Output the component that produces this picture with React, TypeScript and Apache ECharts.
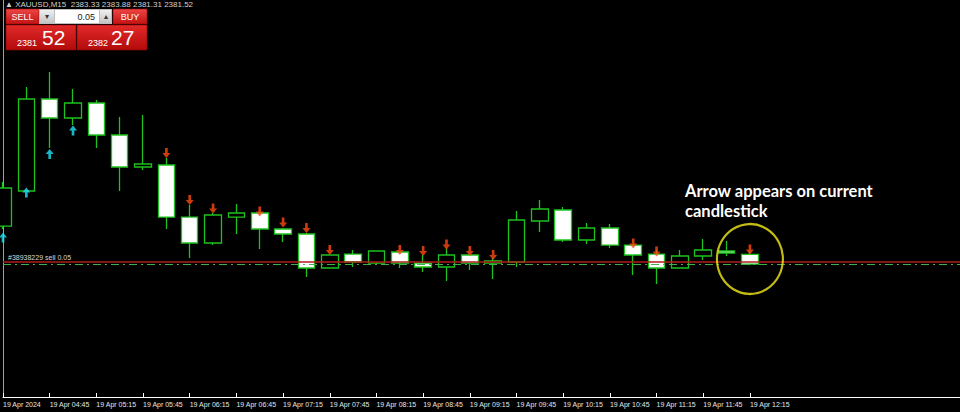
import React, { useEffect, useRef } from "react";
import * as echarts from "echarts";

// ---- data ----
const categories = [
  "04:15", "04:30", "04:45", "05:00", "05:15", "05:30", "05:45", "06:00", "06:15", "06:30",
  "06:45", "07:00", "07:15", "07:30", "07:45", "08:00", "08:15", "08:30", "08:45", "09:00",
  "09:15", "09:30", "09:45", "10:00", "10:15", "10:30", "10:45", "11:00", "11:15", "11:30",
  "11:45", "12:00", "12:15", "12:30", "12:45", "13:00", "13:15", "13:30", "13:45", "14:00",
  "14:15", "14:30",
];
const firstTickLabel = "19 Apr 2024";
const dayLabel = "19 Apr";

const opens = [2388.70, 2395.32, 2412.70, 2409.11, 2411.94, 2405.90, 2399.85, 2400.23, 2390.40, 2385.49, 2390.40, 2391.16, 2388.14, 2387.19, 2380.77, 2383.41, 2381.71, 2383.79, 2381.71, 2380.96, 2383.23, 2381.71, 2381.90, 2389.65, 2391.73, 2386.06, 2388.33, 2385.11, 2383.41, 2380.77, 2383.04, 2383.98, 2383.33];
const closes = [2395.88, 2412.70, 2409.11, 2411.94, 2405.90, 2399.85, 2400.42, 2390.40, 2385.49, 2390.78, 2391.16, 2388.14, 2387.19, 2380.77, 2383.23, 2381.90, 2383.98, 2381.71, 2380.96, 2383.23, 2381.71, 2382.09, 2389.84, 2391.92, 2386.06, 2388.33, 2385.11, 2383.23, 2380.77, 2383.04, 2384.17, 2383.60, 2381.52];
const highs = [2397.02, 2414.96, 2417.80, 2414.59, 2412.51, 2409.30, 2409.67, 2401.55, 2392.67, 2391.16, 2392.86, 2391.35, 2388.33, 2387.38, 2383.23, 2384.17, 2383.98, 2383.79, 2383.23, 2384.55, 2383.23, 2382.66, 2391.54, 2393.62, 2392.29, 2389.27, 2389.08, 2385.11, 2384.17, 2384.17, 2386.25, 2385.87, 2383.88];
const lows = [2388.14, 2395.20, 2403.44, 2407.78, 2403.44, 2395.32, 2399.28, 2388.14, 2382.66, 2385.11, 2387.19, 2384.36, 2385.68, 2379.07, 2380.77, 2380.96, 2381.53, 2380.77, 2380.01, 2378.31, 2380.39, 2378.69, 2380.96, 2387.57, 2385.68, 2385.30, 2384.55, 2379.45, 2377.75, 2380.77, 2382.28, 2383.04, 2381.31];

const upArrows = [2386.53, 2395.03, 2402.31, 2406.75, null, null, null, null, null, null, null, null, null, null, null, null, null, null, null, null, null, null, null, null, null, null, null, null, null, null, null, null, null];
const downArrows = [null, null, null, null, null, null, null, 2402.50, 2393.62, 2392.01, null, 2391.44, 2389.37, 2388.33, 2384.17, null, null, 2384.17, 2383.98, 2385.21, 2383.98, 2383.23, null, null, null, null, null, 2385.40, 2383.89, null, null, null, 2384.26];

const symbolName = "XAUUSD,M15";
const orderPrice = 2382.0;
const orderLabel = "#38938229 sell 0.05";
const bidPrice = 2381.52;
const askPrice = 2382.27;
const lotSize = "0.05";
const highlightIndex = 32;
const highlightPrice = 2382.47;
const annotation = "Arrow appears on current\ncandlestick";

const yMin = 2356.4;
const yMax = 2431.4;

export default function App() {
  const ref = useRef<HTMLDivElement>(null);

  useEffect(() => {
    if (!ref.current) return;
    const chart = echarts.init(ref.current, null, { renderer: "svg" });

    const candleData = opens.map((o, i) => [o, closes[i], lows[i], highs[i]]);
    const upData: any[] = [];
    upArrows.forEach((v, i) => { if (v != null) upData.push([i, v]); });
    const downData: any[] = [];
    downArrows.forEach((v, i) => { if (v != null) downData.push([i, v]); });

    const last = opens.length - 1;
    const header = `▲ ${symbolName}  ${opens[last].toFixed(2)} ${highs[last].toFixed(2)} ${lows[last].toFixed(2)} ${closes[last].toFixed(2)}`;
    const bidStr = bidPrice.toFixed(2);
    const askStr = askPrice.toFixed(2);
    const bidBig = bidStr.slice(0, 4);
    const bidSmall = bidStr.slice(5);
    const askBig = askStr.slice(0, 4);
    const askSmall = askStr.slice(5);

    const showTick = (i: number) => i % 2 === 0 && i <= last;
    const btnGrad = () =>
      new echarts.graphic.LinearGradient(0, 0, 0, 1, [
        { offset: 0, color: "#ee4646" },
        { offset: 1, color: "#c41212" },
      ]);
    const bigGrad = () =>
      new echarts.graphic.LinearGradient(0, 0, 0, 1, [
        { offset: 0, color: "#e22a2a" },
        { offset: 1, color: "#b30a0a" },
      ]);
    const grayGrad = () =>
      new echarts.graphic.LinearGradient(0, 0, 0, 1, [
        { offset: 0, color: "#f0f0f0" },
        { offset: 1, color: "#c4c4c4" },
      ]);
    const font = '"Liberation Sans", Arial, sans-serif';

    chart.setOption({
      animation: false,
      backgroundColor: "#000000",
      grid: { left: 3, right: 0, top: 0, bottom: 15 },
      xAxis: {
        type: "category",
        data: categories,
        boundaryGap: false,
        axisLine: { show: true, lineStyle: { color: "#ffffff", width: 1 } },
        axisTick: {
          show: true,
          inside: true,
          length: 4,
          interval: (i: number) => showTick(i),
          lineStyle: { color: "#ffffff" },
        },
        axisLabel: {
          show: true,
          interval: (i: number) => showTick(i),
          formatter: (v: string, i: number) => (i === 0 ? firstTickLabel : `${dayLabel} ${v}`),
          align: "left",
          color: "#e6e6e6",
          fontSize: 7,
          fontFamily: font,
          margin: 4,
        },
        splitLine: { show: false },
      },
      yAxis: {
        type: "value",
        min: yMin,
        max: yMax,
        axisLine: { show: true, lineStyle: { color: "#a0a0a0", width: 1 } },
        axisTick: { show: false },
        axisLabel: { show: false },
        splitLine: { show: false },
      },
      series: [
        {
          type: "candlestick",
          data: candleData,
          barWidth: 17,
          clip: true,
          itemStyle: {
            color: "#000000",
            color0: "#ffffff",
            borderColor: "#1ec21e",
            borderColor0: "#1ec21e",
            borderColorDoji: "#1ec21e",
            borderWidth: 1.3,
          },
          markLine: {
            silent: true,
            symbol: ["none", "none"],
            data: [
              {
                yAxis: orderPrice,
                lineStyle: { color: "#b01c1c", width: 1.6, type: "solid" },
                label: {
                  show: true,
                  position: "insideStartTop",
                  formatter: orderLabel,
                  color: "#d8d8d8",
                  fontSize: 7,
                  fontFamily: font,
                  distance: [5, 0],
                },
              },
              {
                yAxis: bidPrice,
                lineStyle: { color: "#3fb04a", width: 1, type: [8, 4, 2, 4] },
                label: { show: false },
              },
            ],
          },
        },
        {
          type: "scatter",
          data: upData,
          symbol: "path://M4.5,0 L9,5 L6,5 L6,10 L3,10 L3,5 L0,5 Z",
          symbolSize: [8, 10],
          itemStyle: { color: "#1ee4f6" },
          z: 5,
        },
        {
          type: "scatter",
          data: downData,
          symbol: "path://M3,0 L6,0 L6,5 L9,5 L4.5,10 L0,5 L3,5 Z",
          symbolSize: [8, 10],
          itemStyle: { color: "#ff4a12" },
          z: 5,
        },
        {
          type: "scatter",
          data: [[highlightIndex, highlightPrice]],
          symbol: "circle",
          symbolSize: [66, 70],
          itemStyle: { color: "rgba(0,0,0,0)", borderColor: "#f2ea1a", borderWidth: 2.2 },
          z: 6,
        },
      ],
      graphic: [
        {
          type: "text",
          x: 5,
          y: 4,
          style: { text: header, fill: "#d0d0d0", fontSize: 8, fontFamily: font, verticalAlign: "middle" },
        },
        // SELL button
        { type: "rect", shape: { x: 6, y: 9, width: 33, height: 15 }, style: { fill: btnGrad(), stroke: "#9a0c0c", lineWidth: 0.6 } },
        { type: "text", x: 22.5, y: 16.5, style: { text: "SELL", fill: "#ffffff", fontSize: 9, fontFamily: font, align: "center", verticalAlign: "middle" } },
        // lot spinner
        { type: "rect", shape: { x: 39, y: 9, width: 73, height: 15 }, style: { fill: "#bdbdbd" } },
        { type: "rect", shape: { x: 40, y: 10, width: 14, height: 13 }, style: { fill: grayGrad() } },
        { type: "text", x: 47, y: 16.5, style: { text: "▾", fill: "#333333", fontSize: 8, fontFamily: font, align: "center", verticalAlign: "middle" } },
        { type: "rect", shape: { x: 55, y: 10, width: 44, height: 13 }, style: { fill: "#ffffff" } },
        { type: "text", x: 95, y: 16.5, style: { text: lotSize, fill: "#222222", fontSize: 9, fontFamily: font, align: "right", verticalAlign: "middle" } },
        { type: "rect", shape: { x: 100, y: 10, width: 11, height: 13 }, style: { fill: grayGrad() } },
        { type: "text", x: 105.5, y: 16.5, style: { text: "▴", fill: "#333333", fontSize: 8, fontFamily: font, align: "center", verticalAlign: "middle" } },
        // BUY button
        { type: "rect", shape: { x: 113, y: 9, width: 34, height: 15 }, style: { fill: btnGrad(), stroke: "#9a0c0c", lineWidth: 0.6 } },
        { type: "text", x: 130, y: 16.5, style: { text: "BUY", fill: "#ffffff", fontSize: 9, fontFamily: font, align: "center", verticalAlign: "middle" } },
        // big price buttons
        { type: "rect", shape: { x: 6, y: 25, width: 70, height: 25 }, style: { fill: bigGrad(), stroke: "#8a0808", lineWidth: 0.6 } },
        { type: "text", x: 17, y: 42.5, style: { text: bidBig, fill: "#ffffff", fontSize: 9, fontFamily: font, verticalAlign: "middle" } },
        { type: "text", x: 42, y: 37.5, style: { text: bidSmall, fill: "#ffffff", fontSize: 21, fontFamily: font, verticalAlign: "middle" } },
        { type: "rect", shape: { x: 77, y: 25, width: 70, height: 25 }, style: { fill: bigGrad(), stroke: "#8a0808", lineWidth: 0.6 } },
        { type: "text", x: 88, y: 42.5, style: { text: askBig, fill: "#ffffff", fontSize: 9, fontFamily: font, verticalAlign: "middle" } },
        { type: "text", x: 111, y: 37.5, style: { text: askSmall, fill: "#ffffff", fontSize: 21, fontFamily: font, verticalAlign: "middle" } },
        // annotation
        {
          type: "text",
          x: 685,
          y: 181,
          style: {
            text: annotation,
            fill: "#ffffff",
            fontSize: 16.5,
            fontWeight: "bold",
            fontFamily: "Lato, 'Open Sans', sans-serif",
            lineHeight: 20,
            verticalAlign: "top",
          },
        },
      ],
    });

    return () => chart.dispose();
  }, []);

  return (
    <div
      ref={ref}
      style={{ position: "fixed", left: 0, top: 0, width: 960, height: 412, background: "#000" }}
    />
  );
}
